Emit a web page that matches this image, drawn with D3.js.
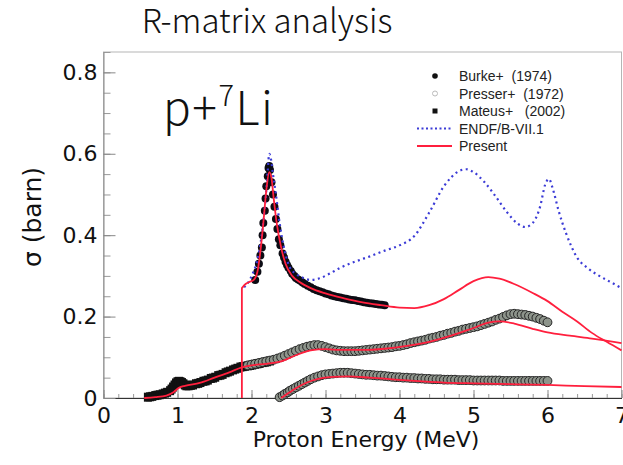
<!DOCTYPE html>
<html>
<head>
<meta charset="utf-8">
<script src="https://cdn.jsdelivr.net/npm/d3@7"></script>
<style>
  body { margin: 0; background: #fff; }
  svg text { white-space: pre; }
</style>
</head>
<body>
<div id="chart"></div>
<script>
var xTicks = [0, 1, 2, 3, 4, 5, 6, 7];
var yTicks = [0, 0.2, 0.4, 0.6, 0.8];

// [MeV, barn]
var burke = [[2.05,0.29],[2.08,0.31],[2.10,0.33],[2.12,0.35],[2.14,0.37],[2.15,0.40],[2.16,0.43],[2.18,0.46],[2.19,0.49],[2.20,0.52],[2.22,0.545],[2.23,0.565],[2.24,0.57],[2.25,0.56],[2.27,0.53],[2.29,0.50],[2.31,0.47],[2.33,0.44],[2.35,0.415],[2.37,0.39],[2.39,0.375],[2.42,0.355],[2.44,0.345],[2.46,0.335],[2.48,0.327],[2.50,0.32],[2.53,0.312],[2.55,0.305],[2.58,0.30],[2.60,0.295],[2.63,0.291],[2.66,0.288],[2.69,0.284],[2.72,0.28],[2.76,0.276],[2.80,0.272],[2.84,0.268],[2.88,0.265],[2.92,0.262],[2.96,0.26],[3.00,0.257],[3.04,0.255],[3.08,0.252],[3.12,0.25],[3.16,0.248],[3.20,0.247],[3.24,0.245],[3.28,0.244],[3.32,0.242],[3.36,0.241],[3.40,0.24],[3.44,0.238],[3.48,0.237],[3.52,0.235],[3.56,0.234],[3.60,0.233],[3.64,0.232],[3.68,0.231],[3.72,0.23],[3.76,0.229],[3.80,0.228]];

var mateus = [[0.60,0.002],[0.63,0.003],[0.66,0.004],[0.70,0.006],[0.73,0.007],[0.76,0.008],[0.80,0.010],[0.83,0.012],[0.86,0.014],[0.90,0.018],[0.92,0.022],[0.94,0.027],[0.96,0.032],[0.98,0.037],[1.00,0.040],[1.02,0.041],[1.04,0.040],[1.06,0.038],[1.08,0.035],[1.10,0.032],[1.12,0.030],[1.15,0.030],[1.18,0.031],[1.21,0.032],[1.25,0.035],[1.28,0.036],[1.31,0.038],[1.35,0.041],[1.38,0.042],[1.41,0.044],[1.45,0.048],[1.48,0.049],[1.51,0.051],[1.55,0.055],[1.58,0.056],[1.61,0.058],[1.65,0.062],[1.68,0.064],[1.71,0.066],[1.75,0.069],[1.78,0.071],[1.81,0.073],[1.85,0.076],[1.88,0.077],[1.91,0.078],[1.95,0.079],[1.98,0.080],[2.01,0.081],[2.05,0.083],[2.08,0.084],[2.11,0.085],[2.15,0.087],[2.18,0.088],[2.21,0.089],[2.25,0.091]];

var presserMid = [[1.95,0.080],[2.00,0.082],[2.05,0.084],[2.10,0.086],[2.15,0.088],[2.20,0.090],[2.25,0.092],[2.30,0.094],[2.35,0.097],[2.40,0.100],[2.45,0.104],[2.50,0.108],[2.55,0.112],[2.60,0.116],[2.65,0.120],[2.70,0.123],[2.75,0.126],[2.80,0.128],[2.85,0.130],[2.90,0.130],[2.95,0.128],[3.00,0.125],[3.05,0.122],[3.10,0.119],[3.15,0.117],[3.20,0.116],[3.25,0.115],[3.30,0.115],[3.35,0.115],[3.40,0.115],[3.45,0.116],[3.50,0.117],[3.55,0.118],[3.60,0.119],[3.65,0.120],[3.70,0.121],[3.75,0.122],[3.80,0.123],[3.85,0.124],[3.90,0.125],[3.95,0.127],[4.00,0.128],[4.05,0.130],[4.10,0.132],[4.15,0.135],[4.20,0.137],[4.25,0.139],[4.30,0.141],[4.35,0.143],[4.40,0.146],[4.45,0.148],[4.50,0.150],[4.55,0.153],[4.60,0.155],[4.65,0.158],[4.70,0.160],[4.75,0.163],[4.80,0.165],[4.85,0.168],[4.90,0.170],[4.95,0.172],[5.00,0.174],[5.05,0.176],[5.10,0.179],[5.15,0.182],[5.20,0.185],[5.25,0.188],[5.30,0.192],[5.35,0.195],[5.40,0.199],[5.45,0.203],[5.50,0.206],[5.55,0.207],[5.60,0.206],[5.65,0.205],[5.70,0.204],[5.75,0.202],[5.80,0.200],[5.85,0.197],[5.90,0.194],[5.95,0.190],[6.00,0.186]];

var presserLow = [[2.38,0.002],[2.42,0.006],[2.45,0.010],[2.49,0.014],[2.52,0.018],[2.56,0.022],[2.60,0.026],[2.64,0.030],[2.68,0.034],[2.72,0.038],[2.76,0.042],[2.80,0.046],[2.85,0.050],[2.90,0.053],[2.95,0.056],[3.00,0.058],[3.05,0.059],[3.10,0.060],[3.15,0.061],[3.20,0.062],[3.25,0.062],[3.30,0.062],[3.35,0.061],[3.40,0.060],[3.45,0.059],[3.50,0.058],[3.55,0.057],[3.60,0.057],[3.65,0.056],[3.70,0.055],[3.75,0.055],[3.80,0.054],[3.85,0.053],[3.90,0.052],[3.95,0.051],[4.00,0.051],[4.05,0.050],[4.10,0.050],[4.15,0.049],[4.20,0.049],[4.25,0.048],[4.30,0.048],[4.35,0.047],[4.40,0.047],[4.45,0.046],[4.50,0.046],[4.55,0.046],[4.60,0.045],[4.65,0.045],[4.70,0.045],[4.75,0.045],[4.80,0.044],[4.85,0.044],[4.90,0.044],[4.95,0.044],[5.00,0.043],[5.05,0.043],[5.10,0.043],[5.15,0.043],[5.20,0.043],[5.25,0.043],[5.30,0.043],[5.35,0.043],[5.40,0.042],[5.45,0.042],[5.50,0.042],[5.55,0.042],[5.60,0.042],[5.65,0.042],[5.70,0.042],[5.75,0.042],[5.80,0.042],[5.85,0.042],[5.90,0.042],[5.95,0.042],[6.00,0.042]];

var endf = [[1.90,0.272],[1.96,0.285],[2.02,0.307],[2.08,0.34],[2.13,0.39],[2.17,0.45],[2.20,0.51],[2.22,0.56],[2.24,0.60],[2.26,0.59],[2.29,0.55],[2.33,0.50],[2.38,0.43],[2.45,0.36],[2.52,0.32],[2.60,0.305],[2.70,0.295],[2.80,0.29],[2.92,0.294],[3.05,0.305],[3.20,0.32],[3.40,0.335],[3.60,0.348],[3.80,0.362],[4.00,0.375],[4.20,0.398],[4.40,0.455],[4.60,0.52],[4.80,0.557],[4.90,0.562],[5.00,0.555],[5.15,0.53],[5.30,0.495],[5.45,0.457],[5.60,0.428],[5.70,0.42],[5.80,0.43],[5.90,0.47],[5.97,0.525],[6.02,0.538],[6.07,0.515],[6.15,0.46],[6.25,0.405],[6.40,0.345],[6.55,0.318],[6.70,0.30],[6.85,0.285],[7.00,0.27]];

var presentTot = [[1.87,0],[1.87,0.27],[1.92,0.28],[1.97,0.285],[2.03,0.29],[2.08,0.31],[2.12,0.36],[2.16,0.43],[2.20,0.51],[2.24,0.555],[2.27,0.54],[2.30,0.49],[2.34,0.43],[2.40,0.37],[2.46,0.33],[2.55,0.30],[2.65,0.285],[2.80,0.27],[3.00,0.257],[3.25,0.245],[3.50,0.235],[3.75,0.228],[4.00,0.222],[4.20,0.221],[4.40,0.228],[4.60,0.243],[4.80,0.265],[5.00,0.287],[5.20,0.297],[5.35,0.293],[5.55,0.28],[5.80,0.258],[6.00,0.238],[6.20,0.212],[6.40,0.188],[6.60,0.16],[6.80,0.138],[7.00,0.117]];

var presentMid = [[0.55,0],[0.70,0.002],[0.85,0.006],[0.95,0.015],[1.02,0.025],[1.10,0.03],[1.30,0.037],[1.50,0.05],[1.70,0.063],[1.87,0.075],[2.00,0.08],[2.20,0.084],[2.40,0.09],[2.60,0.105],[2.80,0.117],[3.00,0.12],[3.20,0.118],[3.50,0.118],[3.80,0.121],[4.10,0.128],[4.40,0.138],[4.70,0.153],[5.00,0.172],[5.20,0.185],[5.35,0.188],[5.55,0.183],[5.80,0.17],[6.00,0.161],[6.30,0.153],[6.60,0.146],[7.00,0.135]];

var presentLow = [[2.40,0],[2.50,0.012],[2.60,0.024],[2.75,0.038],[2.90,0.047],[3.10,0.052],[3.30,0.053],[3.60,0.05],[3.90,0.046],[4.20,0.042],[4.60,0.038],[5.00,0.036],[5.50,0.034],[6.00,0.032],[6.50,0.029],[7.00,0.027]];

var legendItems = ["Burke+  (1974)", "Presser+  (1972)", "Mateus+   (2002)", "ENDF/B-VII.1", "Present"];

var W = 623, H = 465;
var pLeft = 103.5, pRight = 621.5, pTop = 52, pBottom = 398;

var svg = d3.select("#chart").append("svg")
    .attr("width", W)
    .attr("height", H);

var x = d3.scaleLinear().domain([0, 7]).range([pLeft, pRight]);
var y = d3.scaleLinear().domain([0, 0.85]).range([pBottom, pTop]);

var sans = "'DejaVu Sans', sans-serif";
var gothic = "'Noto Sans CJK JP', 'Noto Sans', sans-serif";

svg.append("text")
    .attr("x", 267)
    .attr("y", 33)
    .attr("text-anchor", "middle")
    .attr("font-family", gothic)
    .attr("font-weight", 300)
    .attr("font-size", "33px")
    .attr("fill", "#111")
    .text("R-matrix analysis");

// frame
svg.append("rect")
    .attr("x", pLeft)
    .attr("y", pTop)
    .attr("width", pRight - pLeft)
    .attr("height", pBottom - pTop)
    .attr("fill", "none")
    .attr("stroke", "#b5b5b5")
    .attr("stroke-width", 1);

// minor ticks
svg.append("g")
    .attr("transform", "translate(0," + pBottom + ")")
    .call(d3.axisBottom(x).tickValues(d3.range(0, 7.01, 0.2)).tickSizeInner(-4).tickSizeOuter(0).tickFormat(""))
    .call(function (g) { g.select(".domain").remove(); g.selectAll("line").attr("stroke", "#999"); });
svg.append("g")
    .attr("transform", "translate(" + pLeft + ",0)")
    .call(d3.axisLeft(y).tickValues(d3.range(0, 0.851, 0.05)).tickSizeInner(-7).tickSizeOuter(0).tickFormat(""))
    .call(function (g) { g.select(".domain").remove(); g.selectAll("line").attr("stroke", "#999"); });

// major ticks + labels
svg.append("g")
    .attr("transform", "translate(0," + pBottom + ")")
    .call(d3.axisBottom(x).tickValues(xTicks).tickSizeInner(-8).tickSizeOuter(0).tickPadding(9).tickFormat(d3.format("d")))
    .call(function (g) {
      g.select(".domain").attr("stroke", "#333");
      g.selectAll("line").attr("stroke", "#888");
      g.selectAll("text").attr("font-family", sans).attr("font-size", "22px").attr("fill", "#111");
    });
svg.append("g")
    .attr("transform", "translate(" + pLeft + ",0)")
    .call(d3.axisLeft(y).tickValues(yTicks).tickSizeInner(-12).tickSizeOuter(0).tickPadding(6).tickFormat(function (d) { return d === 0 ? "0" : d3.format(".1f")(d); }))
    .call(function (g) {
      g.select(".domain").attr("stroke", "#888");
      g.selectAll("line").attr("stroke", "#888");
      g.selectAll("text").attr("font-family", sans).attr("font-size", "22px").attr("fill", "#111");
    });

svg.append("text")
    .attr("x", 366)
    .attr("y", 447)
    .attr("text-anchor", "middle")
    .attr("font-family", sans)
    .attr("font-size", "22px")
    .attr("fill", "#111")
    .text("Proton Energy (MeV)");

svg.append("text")
    .attr("transform", "translate(41,217) rotate(-90)")
    .attr("text-anchor", "middle")
    .attr("font-family", sans)
    .attr("font-size", "25px")
    .attr("fill", "#111")
    .text("σ (barn)");

var plot = svg.append("g");

plot.selectAll("rect.mateus")
    .data(mateus)
    .enter()
    .append("rect")
      .attr("class", "mateus")
      .attr("x", function (d) { return x(d[0]) - 4; })
      .attr("y", function (d) { return y(d[1]) - 4.5; })
      .attr("width", 8)
      .attr("height", 9)
      .attr("fill", "#111");

[presserMid, presserLow].forEach(function (set) {
  plot.append("g").selectAll("circle")
      .data(set)
      .enter()
      .append("circle")
        .attr("cx", function (d) { return x(d[0]); })
        .attr("cy", function (d) { return y(d[1]); })
        .attr("r", 4.4)
        .attr("fill", "#8d948b")
        .attr("stroke", "#262626")
        .attr("stroke-width", 1);
});

plot.selectAll("circle.burke")
    .data(burke)
    .enter()
    .append("circle")
      .attr("class", "burke")
      .attr("cx", function (d) { return x(d[0]); })
      .attr("cy", function (d) { return y(d[1]); })
      .attr("r", 4)
      .attr("fill", "#0c0c14");

var line = d3.line()
    .x(function (d) { return x(d[0]); })
    .y(function (d) { return y(d[1]); })
    .curve(d3.curveMonotoneX);
var lineTot = d3.line()
    .x(function (d) { return x(d[0]); })
    .y(function (d) { return y(d[1]); })
    .curve(d3.curveLinear);

plot.append("path")
    .attr("d", line(endf))
    .attr("fill", "none")
    .attr("stroke", "#3b3bd6")
    .attr("stroke-width", 2.2)
    .attr("stroke-dasharray", "2,3.5");

[presentMid, presentLow].forEach(function (set) {
  plot.append("path")
      .attr("d", line(set))
      .attr("fill", "none")
      .attr("stroke", "#ff1f3d")
      .attr("stroke-width", 1.8);
});
plot.append("path")
    .attr("d", lineTot(presentTot.slice(0, 2)) + line(presentTot.slice(1)).replace(/^M/, "L"))
    .attr("fill", "none")
    .attr("stroke", "#ff1f3d")
    .attr("stroke-width", 1.8);

// p + 7Li label
var lab = svg.append("text")
    .attr("x", 163)
    .attr("y", 125)
    .attr("font-family", gothic)
    .attr("font-weight", 300)
    .attr("font-size", "46px")
    .attr("letter-spacing", "1.5px")
    .attr("fill", "#111");
lab.append("tspan").text("p+");
lab.append("tspan").attr("dy", -19).attr("font-size", "29px").text("7");
lab.append("tspan").attr("dy", 19).text("Li");

// legend
var leg = svg.append("g");
var ly = [76, 93.5, 111, 128.5, 146];

leg.selectAll("text")
    .data(legendItems)
    .enter()
    .append("text")
      .text(function (d) { return d; })
      .attr("x", 459)
      .attr("y", function (d, i) { return ly[i] + 5; })
      .attr("font-family", "'Liberation Sans', Arial, sans-serif")
      .attr("font-size", "14px")
      .attr("fill", "#222");

leg.append("circle").attr("cx", 435).attr("cy", ly[0]).attr("r", 2.8).attr("fill", "#111");
leg.append("circle").attr("cx", 435).attr("cy", ly[1]).attr("r", 2.5).attr("fill", "none").attr("stroke", "#bbb").attr("stroke-width", 1);
leg.append("rect").attr("x", 432.5).attr("y", ly[2] - 2.5).attr("width", 5).attr("height", 5).attr("fill", "#111");
leg.append("line").attr("x1", 417).attr("x2", 452).attr("y1", ly[3]).attr("y2", ly[3])
    .attr("stroke", "#3b3bd6").attr("stroke-width", 2).attr("stroke-dasharray", "2,2.5");
leg.append("line").attr("x1", 417).attr("x2", 452).attr("y1", ly[4]).attr("y2", ly[4])
    .attr("stroke", "#ff1f3d").attr("stroke-width", 1.8);
</script>
</body>
</html>
